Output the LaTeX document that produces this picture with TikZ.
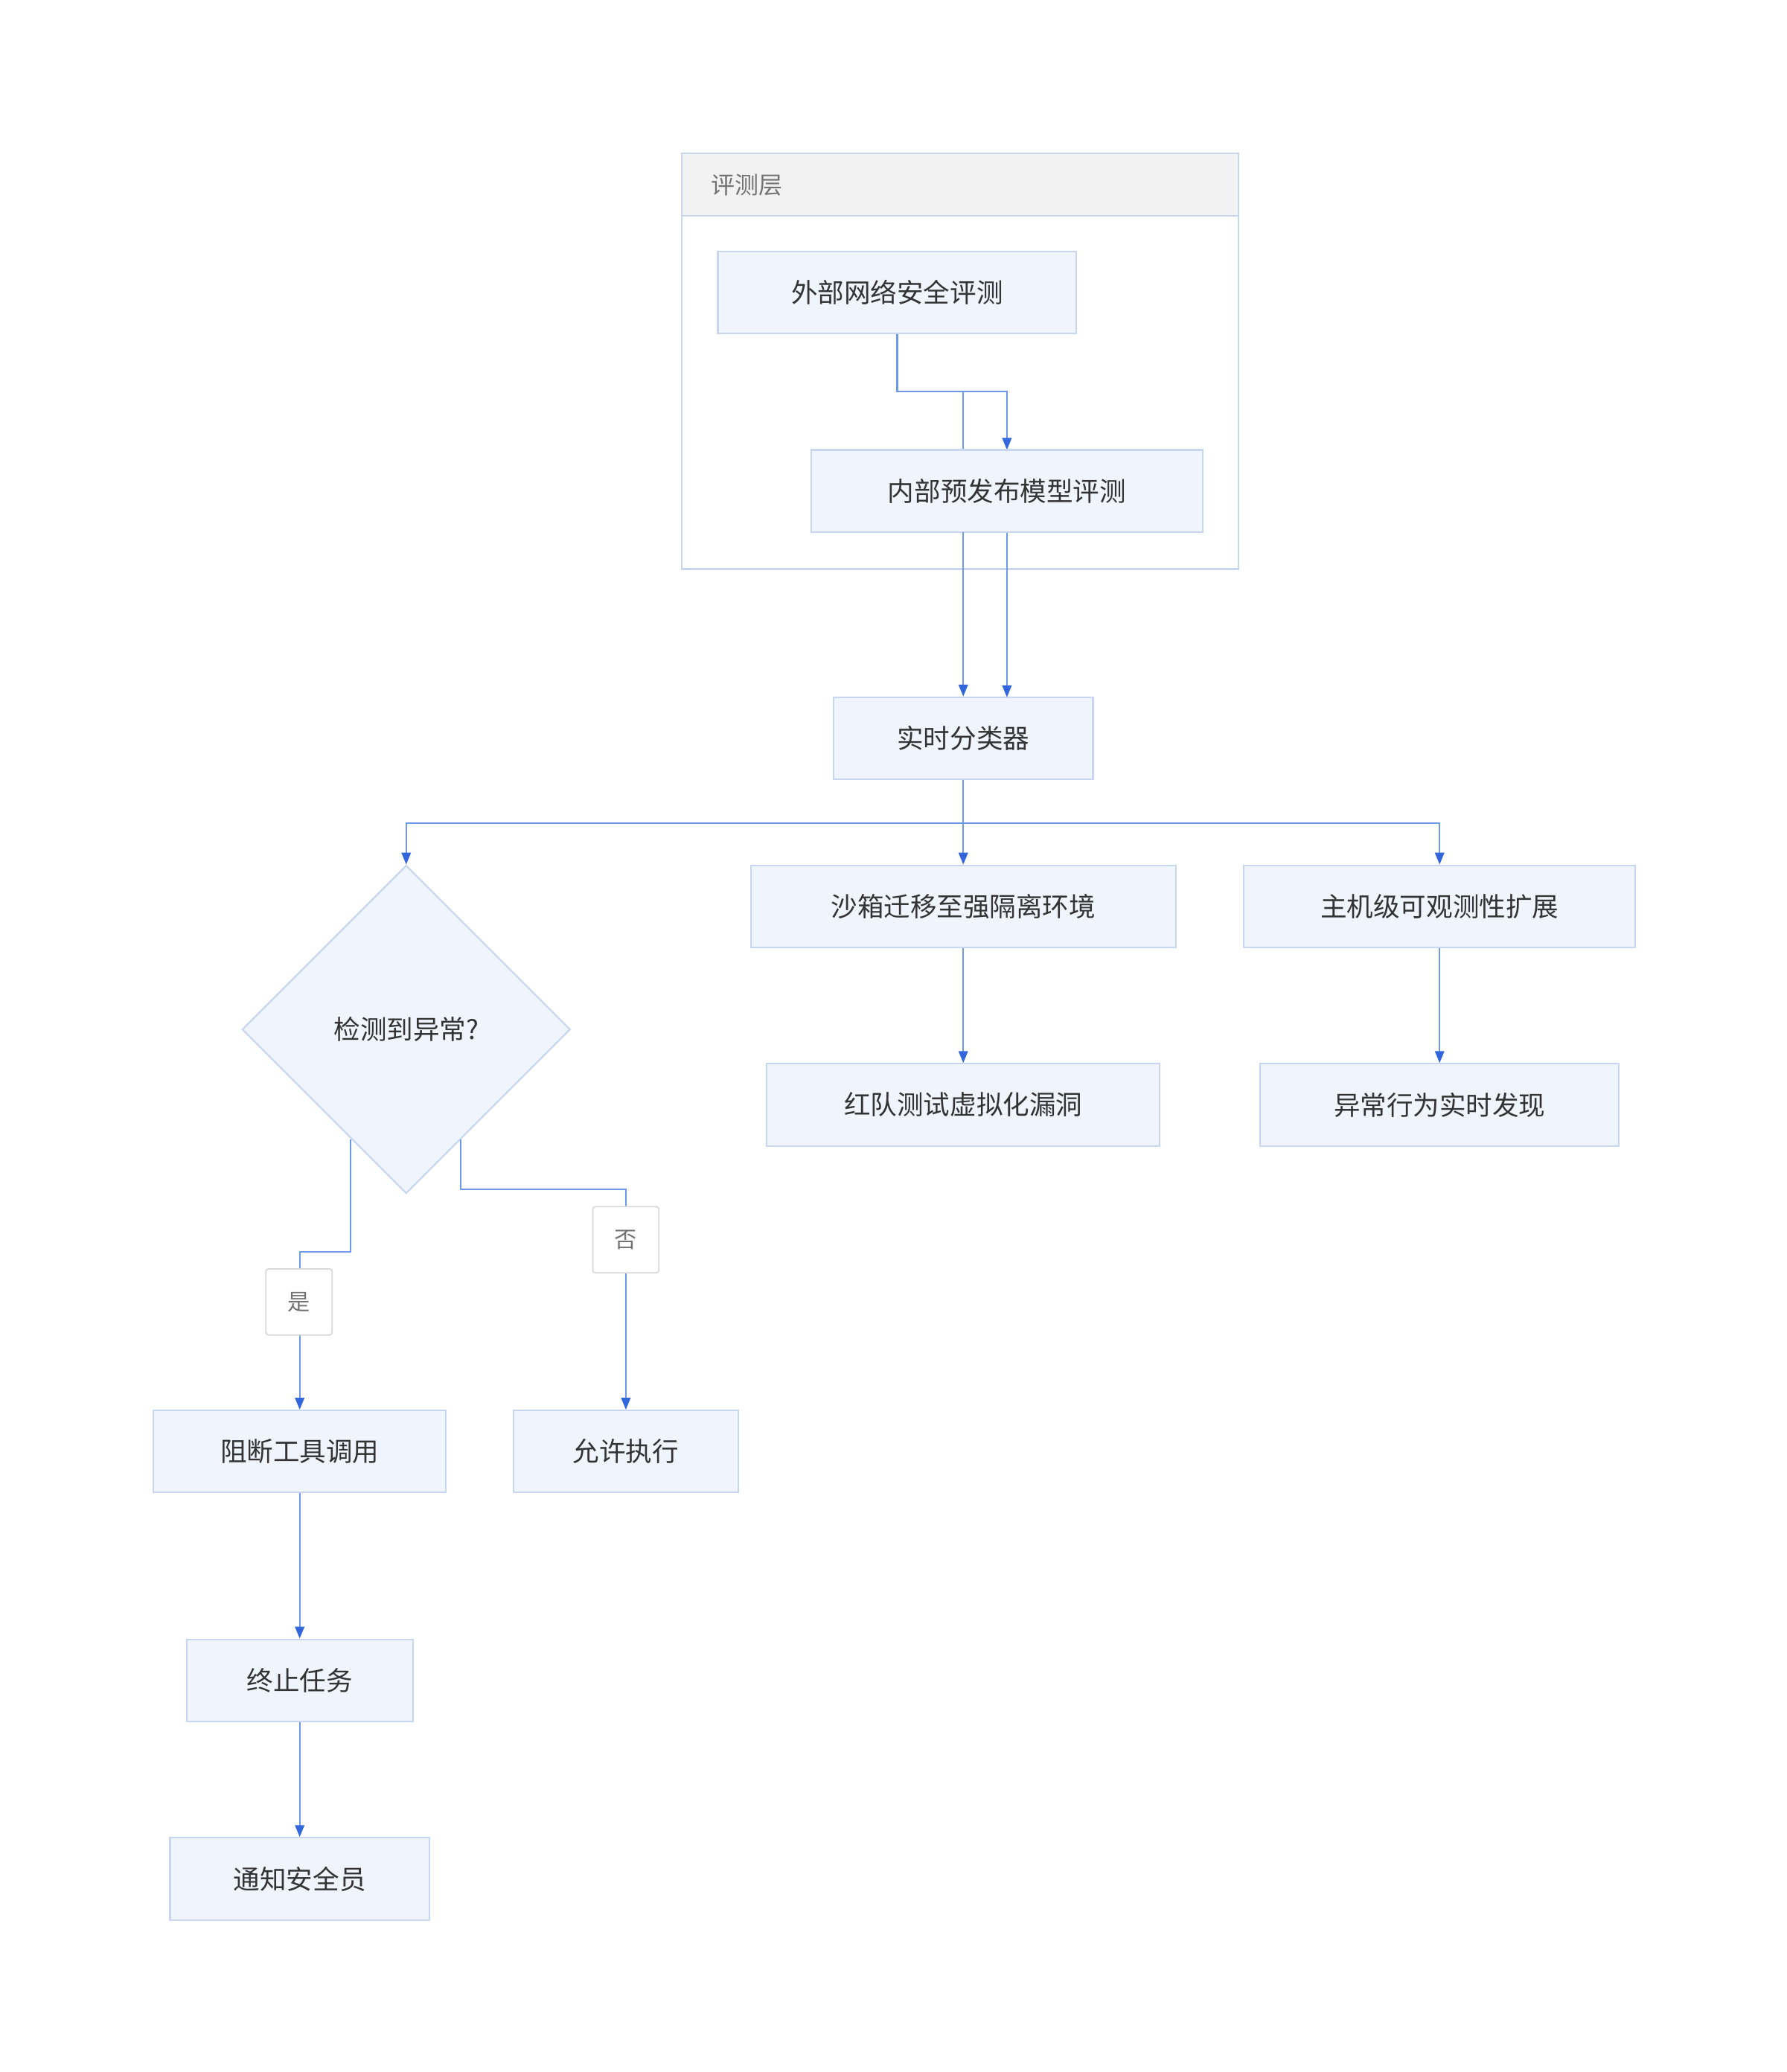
\documentclass[tikz,border=0pt]{standalone}
\usepackage{fontspec}
\setmainfont{Noto Sans CJK SC}
\usetikzlibrary{shapes.geometric,arrows.meta}
\definecolor{nfill}{HTML}{EFF4FD}
\definecolor{nbord}{HTML}{C8D6F0}
\definecolor{edge}{HTML}{6E98E8}
\definecolor{tip}{HTML}{3166DD}
\definecolor{txt}{HTML}{333333}
\begin{document}
\begin{tikzpicture}[x=1pt,y=-1pt,
  box/.style={draw=nbord,fill=nfill,line width=1.2pt,text=txt,font=\fontsize{20}{24}\selectfont,inner sep=0pt,minimum height=62pt},
  lab/.style={draw=black!15,fill=white,rounded corners=2pt,text=black!55,font=\fontsize{17}{20}\selectfont,minimum width=50pt,minimum height=50pt,inner sep=0pt,line width=1pt},
  e/.style={draw=edge,line width=1.3pt},
  a/.style={e,-{Triangle[length=9pt,width=7pt,fill=tip,color=tip]}}]
\useasboundingbox (0,0) rectangle (1350,1566);
\fill[white] (0,0) rectangle (1350,1566);
% group
\draw[draw=nbord,line width=1.2pt,fill=white] (515,116) rectangle (936,430);
\draw[draw=nbord,line width=1.2pt,fill=black!5] (515,116) rectangle (936,163);
\node[anchor=west,text=black!55,font=\fontsize{18}{22}\selectfont] (g) at (534,140) {评测层};
\node[box,minimum width=271pt] (ext) at (678,221) {外部网络安全评测};
\coordinate (b1) at (678,296); \coordinate (b2) at (761,296); \coordinate (b3) at (728,296);
\draw[a] (ext.south) -- (b1) -- (b2) -- (761,340);
\draw[e] (b1) -- (b3) -- (728,340);
\node[box,minimum width=296pt] (int) at (761,371) {内部预发布模型评测};
\node[box,minimum width=196pt] (cls) at (728,558) {实时分类器};
\draw[a] (728,402) -- (cls.north west -| 728,527);
\draw[a] (int.south) -- (761,527);
\node[box,minimum width=321pt] (sb) at (728,685) {沙箱迁移至强隔离环境};
\node[box,minimum width=297pt] (rt) at (728,835) {红队测试虚拟化漏洞};
\node[box,minimum width=296pt] (host) at (1088,685) {主机级可观测性扩展};
\node[box,minimum width=271pt] (ab) at (1088,835) {异常行为实时发现};
\node[diamond,draw=nbord,fill=nfill,line width=1.2pt,minimum width=248pt,minimum height=248pt,inner sep=0pt,text=txt,font=\fontsize{20}{24}\selectfont] (d) at (307,778) {检测到异常?};
\coordinate (s) at (728,622); \coordinate (sl) at (307,622); \coordinate (sr) at (1088,622);
\draw[e] (cls.south) -- (s);
\draw[a] (s) -- (sb.north);
\draw[a] (s) -- (sl) -- (d.north);
\draw[a] (s) -- (sr) -- (host.north);
\draw[a] (sb.south) -- (rt.north);
\draw[a] (host.south) -- (ab.north);
\node[box,minimum width=221pt] (blk) at (226.5,1097) {阻断工具调用};
\node[box,minimum width=170pt] (al) at (473,1097) {允许执行};
\node[box,minimum width=171pt] (term) at (226.5,1270) {终止任务};
\node[box,minimum width=196pt] (ntf) at (226.5,1420) {通知安全员};
\coordinate (y1) at (265,861); \coordinate (y2) at (265,946); \coordinate (y3) at (226.5,946);
\coordinate (n1) at (348,861); \coordinate (n2) at (348,899); \coordinate (n3) at (473,899);
\draw[a] (y1) -- (y2) -- (y3) -- (blk.north);
\draw[a] (n1) -- (n2) -- (n3) -- (al.north);
\node[lab] (yes) at (226,984) {是};
\node[lab] (no) at (473,937) {否};
\draw[a] (blk.south) -- (term.north);
\draw[a] (term.south) -- (ntf.north);
\end{tikzpicture}
\end{document}
